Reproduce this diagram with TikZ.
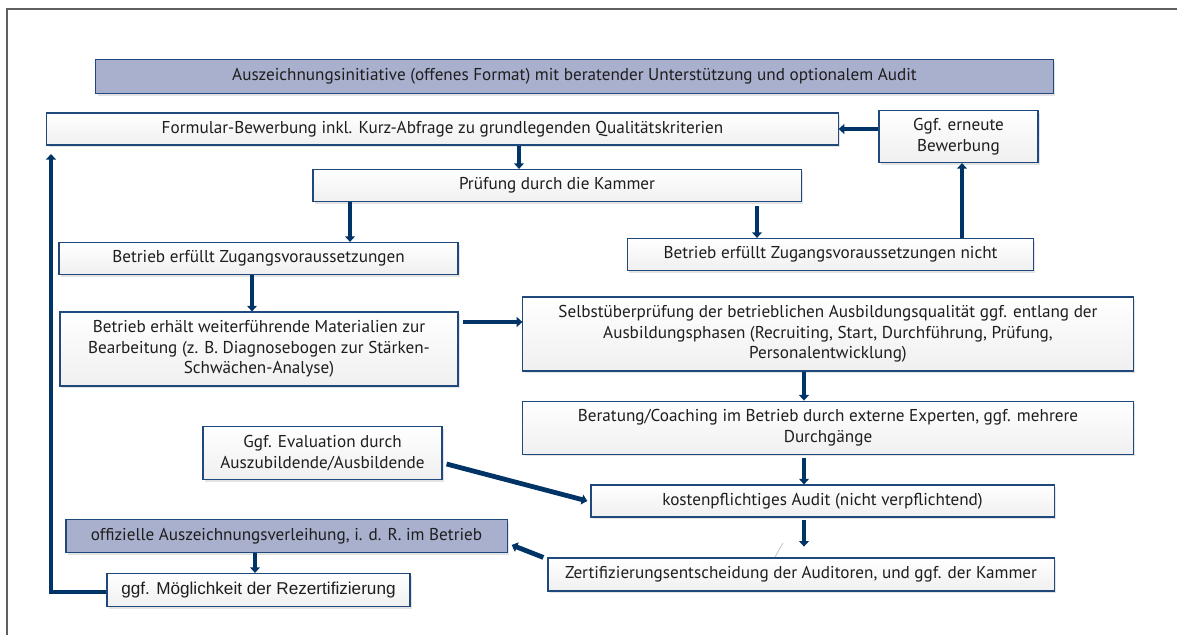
\documentclass[tikz,border=0pt]{standalone}
\usepackage{fontspec}
\setmainfont{PT Sans}
\newfontfamily\arialschrift{Liberation Sans}
\usepackage{tikz}
\usetikzlibrary{positioning,shadows,arrows.meta}

\definecolor{marine}{RGB}{0,51,102}
\definecolor{rahmen}{RGB}{31,73,125}
\definecolor{lila}{RGB}{169,176,206}
\definecolor{schrift}{RGB}{30,30,30}
\definecolor{randgrau}{RGB}{95,95,95}

\tikzset{
  box/.style={draw=rahmen, line width=0.8pt, align=center, text=schrift,
    inner sep=2pt, font=\fontsize{12.2}{14.6}\selectfont,
    drop shadow={shadow xshift=1.2pt, shadow yshift=-1.6pt, opacity=0.22}},
  kasten/.style={box, top color=white, bottom color=black!6},
  kopf/.style={box, fill=lila},
  pfeil/.style={draw=marine, line width=3.4pt,
    -{Triangle[width=7pt,length=4pt]}},
}

\begin{document}
\begin{tikzpicture}[x=0.025cm, y=-0.025cm]
  \useasboundingbox (0,0) rectangle (1177,635);
  % Rahmen
  \draw[randgrau, line width=1.1pt] (7,635) -- (7,9) -- (1177,9);

  \node[kopf, minimum width=23.925cm, minimum height=0.85cm] (titel) at (574.5,76.5)
    {Auszeichnungsinitiative (offenes Format) mit beratender Unterstützung und optionalem Audit};
  \node[kasten, minimum width=19.775cm, minimum height=0.8cm] (form) at (442.5,129)
    {Formular-Bewerbung inkl. Kurz-Abfrage zu grundlegenden Qualitätskriterien};
  \node[kasten, minimum width=3.975cm, minimum height=1.3cm] (neu) at (958.5,136.5)
    {Ggf. erneute\\Bewerbung};
  \node[kasten, minimum width=12.2cm, minimum height=0.8cm] (pruef) at (557,185.5)
    {Prüfung durch die Kammer};
  \node[kasten, minimum width=9.975cm, minimum height=0.8cm] (ja) at (258.5,258.5)
    {Betrieb erfüllt Zugangsvoraussetzungen};
  \node[kasten, minimum width=10.15cm, minimum height=0.8cm] (nein) at (830.5,254.5)
    {Betrieb erfüllt Zugangsvoraussetzungen nicht};
  \node[kasten, minimum width=9.95cm, minimum height=1.85cm] (mat) at (259,349)
    {Betrieb erhält weiterführende Materialien zur\\Bearbeitung (z. B. Diagnosebogen zur Stärken-\\Schwächen-Analyse)};
  \node[kasten, minimum width=15.25cm, minimum height=1.85cm] (selbst) at (828,334)
    {Selbstüberprüfung der betrieblichen Ausbildungsqualität ggf. entlang der\\Ausbildungsphasen (Recruiting, Start, Durchführung, Prüfung,\\Personalentwicklung)};
  \node[kasten, minimum width=15.25cm, minimum height=1.325cm, below=0.725cm of selbst] (ber)
    {Beratung/Coaching im Betrieb durch externe Experten, ggf. mehrere\\Durchgänge};
  \node[kasten, minimum width=5.975cm, minimum height=1.325cm] (eval) at (322.5,453)
    {Ggf. Evaluation durch\\Auszubildende/Ausbildende};
  \node[kasten, minimum width=11.575cm, minimum height=0.8cm] (audit) at (822.5,501)
    {kostenpflichtiges Audit (nicht verpflichtend)};
  \node[kopf, minimum width=11.025cm, minimum height=0.825cm] (feier) at (286.5,536)
    {offizielle Auszeichnungsverleihung, i. d. R. im Betrieb};
  \node[kasten, minimum width=7.575cm, minimum height=0.825cm,
    font=\arialschrift\fontsize{12.2}{14}\selectfont] (rez) at (258.5,590)
    {ggf. Möglichkeit der Rezertifizierung};
  \node[kasten, minimum width=12.65cm, minimum height=0.825cm] (zert) at (801,574.5)
    {Zertifizierungsentscheidung der Auditoren, und ggf. der Kammer};

  \coordinate (knick) at (51,592);

  % Pfeile
  \draw[pfeil] (neu.west |- form.east) -- (form.east);
  \draw[pfeil] (form.south -| 519,0) -- (pruef.north -| 519,0);
  \draw[pfeil] (pruef.south -| 350,0) -- (ja.north -| 350,0);
  \draw[pfeil, shorten <=3pt] (pruef.south -| 757,0) -- (nein.north -| 757,0);
  \draw[pfeil] (nein.north -| 962,0) -- (neu.south -| 962,0);
  \draw[pfeil] (ja.south -| 252,0) -- (mat.north -| 252,0);
  \draw[pfeil, shorten <=3pt] (mat.east |- 0,322) -- (selbst.west |- 0,322);
  \draw[pfeil] (selbst.south -| 804,0) -- (ber.north -| 804,0);
  \draw[pfeil, shorten <=2pt] (ber.south -| 804,0) -- (audit.north -| 804,0);
  \draw[pfeil] ([shift={(4,11)}]eval.east) -- ([shift={(-3,0)}]audit.west);
  \draw[pfeil, shorten <=2pt, shorten >=0.27cm] (audit.south -| 804,0) -- (zert.north -| 804,0);
  \draw[pfeil] ([shift={(-4,0)}]zert.north west) -- ([shift={(4,9)}]feier.east);
  \draw[pfeil] (feier.south -| 255,0) -- (rez.north -| 255,0);
  \draw[pfeil, shorten >=6pt] (rez.west |- knick) -- (knick) -- (form.south -| knick);

  \draw[black!25, line width=0.5pt] (783,543) -- (775,557);
\end{tikzpicture}
\end{document}
